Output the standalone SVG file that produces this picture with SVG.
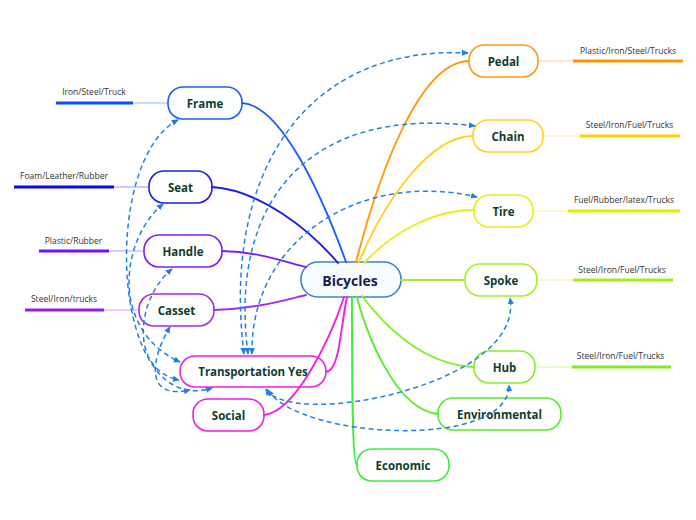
<svg xmlns="http://www.w3.org/2000/svg" width="696" height="520" viewBox="0 0 696 520">
<style>
  .node rect{fill:#ffffff;stroke-width:1.6}
  .t{font-family:"Open Sans","Noto Sans","Liberation Sans",sans-serif;font-weight:700;font-size:11.5px;fill:#0e3d2c;text-anchor:middle;dominant-baseline:central}
  .root{font-size:14px;fill:#13224f}
  .lab{font-family:"Open Sans","Noto Sans","Liberation Sans",sans-serif;font-size:8.5px;fill:#333333;text-anchor:middle}
  .br{fill:none;stroke-width:1.9;stroke-linecap:round}
  .thin{stroke-width:1;opacity:0.45}
  .thick{stroke-width:3}
  .dash{fill:none;stroke:#1f7fe6;stroke-width:1.5;stroke-dasharray:5 3.5;marker-start:url(#arr);marker-end:url(#arr)}
</style>
<defs>
  <marker id="arr" viewBox="0 0 8 8" refX="7" refY="4" markerWidth="7" markerHeight="7" markerUnits="userSpaceOnUse" orient="auto-start-reverse">
    <path d="M0,0.5 L8,4 L0,7.5 z" fill="#1f7fe6"/>
  </marker>
</defs>

<g id="node-bicycles" class="node"><rect x="301" y="262" width="100" height="35" rx="17" stroke="#3a86c8" style="fill:#f9fcff"/><text class="t root" x="350" y="280">Bicycles</text></g>

<g id="node-frame" class="node"><rect x="168" y="87" width="74" height="32" rx="15" stroke="#1e5eff"/><text class="t" x="205" y="103">Frame</text>
  <line x1="133" y1="103" x2="168" y2="103" stroke="#1e5eff" class="thin"/><line x1="56" y1="103" x2="133" y2="103" stroke="#0c4cff" class="thick"/><text class="lab" x="94" y="95">Iron/Steel/Truck</text></g>
<g id="node-seat" class="node"><rect x="149" y="171" width="63" height="32" rx="15" stroke="#1c1cf0"/><text class="t" x="180.5" y="187">Seat</text>
  <line x1="114" y1="187" x2="149" y2="187" stroke="#1c1cf0" class="thin"/><line x1="14" y1="187" x2="114" y2="187" stroke="#0a0af0" class="thick"/><text class="lab" x="64" y="179">Foam/Leather/Rubber</text></g>
<g id="node-handle" class="node"><rect x="144" y="235" width="78" height="32" rx="15" stroke="#7b1fff"/><text class="t" x="183" y="251">Handle</text>
  <line x1="109" y1="251" x2="144" y2="251" stroke="#7b1fff" class="thin"/><line x1="39" y1="251" x2="109" y2="251" stroke="#7010ff" class="thick"/><text class="lab" x="73.5" y="244">Plastic/Rubber</text></g>
<g id="node-casset" class="node"><rect x="139" y="294" width="75" height="32" rx="15" stroke="#a22cf0"/><text class="t" x="176.5" y="310">Casset</text>
  <line x1="104" y1="310" x2="139" y2="310" stroke="#a22cf0" class="thin"/><line x1="25" y1="310" x2="104" y2="310" stroke="#9a18f0" class="thick"/><text class="lab" x="64" y="302">Steel/Iron/trucks</text></g>
<g id="node-transportation" class="node"><rect x="180" y="356" width="146" height="31" rx="15" stroke="#f020e0"/><text class="t" x="253" y="371.5">Transportation Yes</text></g>
<g id="node-social" class="node"><rect x="193" y="399" width="71" height="32" rx="15" stroke="#f020e0"/><text class="t" x="228.5" y="415">Social</text></g>

<g id="node-pedal" class="node"><rect x="469" y="45" width="69" height="32" rx="15" stroke="#ff9a10"/><text class="t" x="503.5" y="61">Pedal</text>
  <line x1="538" y1="61" x2="573" y2="61" stroke="#ff9a10" class="thin"/><line x1="573" y1="61" x2="683" y2="61" stroke="#ff9400" class="thick"/><text class="lab" x="628" y="54">Plastic/Iron/Steel/Trucks</text></g>
<g id="node-chain" class="node"><rect x="473" y="120" width="70" height="32" rx="15" stroke="#ffd21a"/><text class="t" x="508" y="136">Chain</text>
  <line x1="543" y1="136" x2="580" y2="136" stroke="#ffd21a" class="thin"/><line x1="580" y1="136" x2="680" y2="136" stroke="#ffd000" class="thick"/><text class="lab" x="629.5" y="128">Steel/Iron/Fuel/Trucks</text></g>
<g id="node-tire" class="node"><rect x="474" y="195" width="59" height="32" rx="15" stroke="#e4f01a"/><text class="t" x="503.5" y="211">Tire</text>
  <line x1="533" y1="211" x2="568" y2="211" stroke="#e4f01a" class="thin"/><line x1="568" y1="211" x2="680" y2="211" stroke="#e2f000" class="thick"/><text class="lab" x="624" y="203">Fuel/Rubber/latex/Trucks</text></g>
<g id="node-spoke" class="node"><rect x="465" y="264" width="72" height="32" rx="15" stroke="#a8ef22"/><text class="t" x="501" y="280">Spoke</text>
  <line x1="537" y1="280" x2="573" y2="280" stroke="#a8ef22" class="thin"/><line x1="573" y1="280" x2="673" y2="280" stroke="#a4f010" class="thick"/><text class="lab" x="622" y="273">Steel/Iron/Fuel/Trucks</text></g>
<g id="node-hub" class="node"><rect x="474" y="351" width="61" height="32" rx="15" stroke="#86ee2a"/><text class="t" x="504.5" y="367">Hub</text>
  <line x1="535" y1="367" x2="572" y2="367" stroke="#86ee2a" class="thin"/><line x1="572" y1="367" x2="671" y2="367" stroke="#80ee18" class="thick"/><text class="lab" x="620.5" y="359">Steel/Iron/Fuel/Trucks</text></g>
<g id="node-environmental" class="node"><rect x="438" y="398" width="123" height="32" rx="15" stroke="#55ee2a"/><text class="t" x="499.5" y="414">Environmental</text></g>
<g id="node-economic" class="node"><rect x="357" y="449" width="92" height="32" rx="15" stroke="#3cee3c"/><text class="t" x="403" y="465">Economic</text></g>

<g id="connectors">
  <path class="br" stroke="#1e5eff" d="M242,103 C280,105 320,190 346,262"/>
  <path class="br" stroke="#1c1cf0" d="M212,187 C260,190 310,230 338,263"/>
  <path class="br" stroke="#7b1fff" d="M222,251 C260,252 285,262 306,267"/>
  <path class="br" stroke="#a22cf0" d="M214,310 C255,309 285,300 306,295"/>
  <path class="br" stroke="#f020e0" d="M326,372 C340,370 340,330 347,297"/>
  <path class="br" stroke="#f020e0" d="M264,415 C295,412 330,340 344,297"/>
  <path class="br" stroke="#ff9a10" d="M469,61 C420,62 380,170 356,262"/>
  <path class="br" stroke="#ffd21a" d="M473,136 C430,136 385,200 359,262"/>
  <path class="br" stroke="#e4f01a" d="M474,210 C430,210 390,235 364,263"/>
  <path class="br" stroke="#a8ef22" d="M401,280 L465,280"/>
  <path class="br" stroke="#86ee2a" d="M362,296 C380,320 420,365 474,367"/>
  <path class="br" stroke="#55ee2a" d="M357,297 C365,330 395,410 438,414"/>
  <path class="br" stroke="#3cee3c" d="M352,297 C352,380 352,465 357,465"/>

  <path class="dash" d="M244,354 C222,180 300,45 468,53"/>
  <path class="dash" d="M248,354 C228,200 310,105 475,126"/>
  <path class="dash" d="M252,354 C250,240 360,170 477,197"/>
  <path class="dash" d="M178,120 C100,160 110,420 212,388"/>
  <path class="dash" d="M163,204 C120,240 110,330 180,362"/>
  <path class="dash" d="M172,269 C135,300 130,370 179,380"/>
  <path class="dash" d="M170,327 C150,360 145,400 190,390"/>
  <path class="dash" d="M266,389 C290,430 525,385 510,298"/>
  <path class="dash" d="M268,390 C300,440 510,450 509,385"/>
</g>
</svg>
